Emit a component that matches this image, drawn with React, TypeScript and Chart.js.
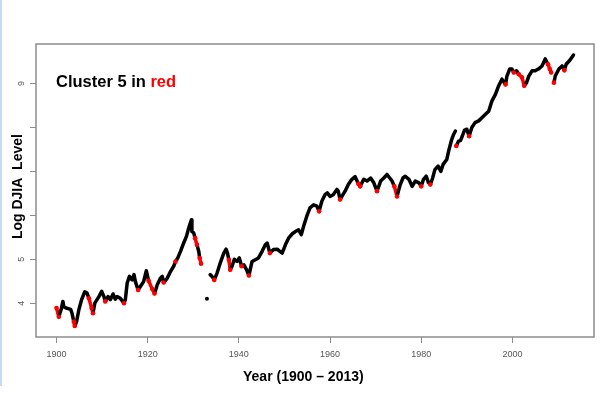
import React, { useEffect, useRef } from 'react';
import { Chart, registerables } from 'chart.js';

Chart.register(...registerables);

// ---- data ----
const years: number[] = [
  1900.0, 1900.5, 1901.0, 1901.4, 1901.6, 1902.1, 1903.1, 1903.4, 1903.8, 1904.0,
  1904.4, 1904.9, 1905.5, 1906.2, 1906.7, 1907.1, 1907.7, 1908.0, 1908.4, 1909.3,
  1909.9, 1910.4, 1910.7, 1911.3, 1911.8, 1912.4, 1912.9, 1913.3, 1914.0, 1914.8,
  1915.1, 1915.5, 1916.0, 1916.6, 1917.0, 1917.3, 1917.9, 1918.4, 1919.1, 1919.7,
  1920.2, 1921.0, 1921.5, 1922.1, 1922.8, 1923.2, 1923.5, 1924.3, 1925.0, 1925.7,
  1926.1, 1926.6, 1927.2, 1927.9, 1928.5, 1929.0, 1929.4, 1929.6, 1929.7, 1930.1,
  1930.4, 1930.8, 1931.2, 1931.4, 1931.7, 1932.3, 1933.0, 1933.4, 1933.7, 1934.1,
  1934.6, 1935.2, 1935.9, 1936.7, 1937.2, 1937.5, 1937.8, 1938.1, 1938.5, 1939.0,
  1939.6, 1940.1, 1940.6, 1941.1, 1941.7, 1942.2, 1942.9, 1943.6, 1944.3, 1945.1,
  1945.8, 1946.2, 1946.8, 1947.6, 1948.4, 1949.0, 1949.5, 1950.2, 1950.9, 1951.7,
  1952.4, 1953.1, 1953.7, 1954.2, 1954.9, 1955.6, 1956.4, 1957.1, 1957.6, 1958.2,
  1958.9, 1959.4, 1960.0, 1960.7, 1961.5, 1961.8, 1962.2, 1962.6, 1963.3, 1964.0,
  1964.8, 1965.5, 1966.2, 1966.6, 1967.4, 1968.1, 1968.9, 1969.6, 1970.3, 1971.1,
  1971.8, 1972.5, 1973.1, 1973.6, 1974.1, 1974.7, 1975.0, 1975.4, 1976.0, 1976.5,
  1977.3, 1978.0, 1978.7, 1979.5, 1980.0, 1980.5, 1981.1, 1981.6, 1982.0, 1982.5,
  1983.0, 1983.7, 1984.3, 1984.8, 1985.6, 1986.1, 1986.7, 1987.1, 1987.5, 1987.6,
  1987.7, 1988.2, 1988.6, 1989.0, 1989.5, 1990.0, 1990.5, 1991.1, 1991.8, 1992.6,
  1993.3, 1994.1, 1994.8, 1995.5, 1996.3, 1997.0, 1997.7, 1998.5, 1998.8, 1999.4,
  1999.9, 2000.3, 2000.9, 2001.4, 2002.1, 2002.6, 2003.1, 2003.6, 2004.3, 2005.0,
  2005.7, 2006.5, 2007.2, 2007.8, 2008.2, 2008.5, 2008.8, 2009.1, 2009.4, 2010.2,
  2010.9, 2011.4, 2011.8, 2012.6, 2013.4,
];

const logDjia: (number | null)[] = [
  3.89, 3.69, 3.85, 4.04, 3.92, 3.89, 3.86, 3.77, 3.58, 3.48,
  3.58, 3.85, 4.08, 4.26, 4.23, 4.11, 3.89, 3.77, 4.00, 4.15,
  4.27, 4.15, 4.04, 4.15, 4.08, 4.21, 4.09, 4.15, 4.11, 4.00,
  4.08, 4.46, 4.61, 4.53, 4.65, 4.49, 4.30, 4.38, 4.49, 4.74,
  4.51, 4.32, 4.22, 4.42, 4.57, 4.61, 4.47, 4.57, 4.72, 4.84,
  4.95, 5.03, 5.18, 5.37, 5.52, 5.71, 5.84, 5.90, 5.63, 5.60,
  5.48, 5.33, 5.18, 5.03, 4.90, null, 4.10, null, 4.65, 4.61,
  4.53, 4.68, 4.91, 5.14, 5.23, 5.14, 4.99, 4.76, 4.84, 5.00,
  4.95, 5.03, 4.84, 4.87, 4.76, 4.63, 4.95, 4.99, 5.03, 5.18,
  5.33, 5.37, 5.14, 5.22, 5.23, 5.18, 5.14, 5.33, 5.48, 5.58,
  5.63, 5.67, 5.56, 5.75, 5.98, 6.17, 6.24, 6.21, 6.09, 6.32,
  6.47, 6.51, 6.43, 6.47, 6.59, 6.55, 6.36, 6.43, 6.55, 6.70,
  6.82, 6.88, 6.72, 6.66, 6.82, 6.78, 6.85, 6.74, 6.55, 6.78,
  6.85, 6.93, 6.85, 6.78, 6.66, 6.43, 6.55, 6.70, 6.85, 6.89,
  6.82, 6.66, 6.78, 6.74, 6.66, 6.82, 6.89, 6.74, 6.70, 6.85,
  7.04, 7.12, 7.00, 7.16, 7.27, 7.50, 7.73, 7.84, 7.92, null,
  7.58, 7.69, 7.70, 7.80, 7.94, 7.96, 7.80, 8.00, 8.11, 8.15,
  8.22, 8.30, 8.37, 8.60, 8.76, 8.95, 9.10, 8.98, 9.17, 9.33,
  9.33, 9.25, 9.29, 9.21, 9.14, 8.95, 9.02, 9.17, 9.29, 9.29,
  9.33, 9.40, 9.56, 9.44, 9.33, 9.25, null, 9.02, 9.17, 9.33,
  9.40, 9.30, 9.44, 9.53, 9.65,
];

// 1 = observation belongs to cluster 5 (drawn in red)
const cluster5: number[] = [
  1, 1, 0, 0, 0, 0, 0, 0, 1, 1,
  0, 0, 0, 0, 0, 1, 1, 1, 0, 0,
  0, 0, 1, 0, 0, 0, 0, 0, 0, 1,
  0, 0, 0, 0, 0, 0, 1, 0, 0, 0,
  1, 1, 1, 0, 0, 0, 1, 0, 0, 0,
  1, 0, 0, 0, 0, 0, 0, 0, 0, 0,
  1, 1, 0, 1, 1, 0, 0, 0, 0, 0,
  1, 0, 0, 0, 0, 0, 1, 1, 0, 0,
  0, 0, 1, 0, 0, 1, 0, 0, 0, 0,
  0, 0, 1, 0, 0, 0, 0, 0, 0, 0,
  0, 0, 0, 0, 0, 0, 0, 0, 1, 0,
  0, 0, 0, 0, 0, 0, 1, 0, 0, 0,
  0, 0, 1, 1, 0, 0, 0, 0, 1, 0,
  0, 0, 0, 0, 1, 1, 0, 0, 0, 0,
  0, 0, 0, 0, 1, 0, 0, 0, 1, 0,
  0, 0, 0, 0, 0, 0, 0, 0, 0, 0,
  1, 0, 0, 0, 0, 0, 1, 0, 0, 0,
  0, 0, 0, 0, 0, 0, 0, 1, 0, 0,
  0, 1, 0, 1, 1, 1, 0, 0, 0, 0,
  0, 0, 0, 1, 1, 1, 0, 1, 0, 0,
  0, 1, 0, 0, 0,
];

const xTickValues: number[] = [1900, 1920, 1940, 1960, 1980, 2000];
const yTickValues: number[] = [4, 5, 6, 7, 8, 9];
const yTickLabels: string[] = ['4', '5', '', '', '', '9'];
const xTitle = 'Year (1900 \u2013 2013)';
const yTitle = 'Log DJIA  Level';
const noteText = 'Cluster 5 in ';
const noteHighlight = 'red';

const FONT = '"Liberation Sans", Arial, Helvetica, sans-serif';
const NARROW = '"Liberation Sans Narrow", "Arial Narrow", "Liberation Sans", sans-serif';
const RED = '#ff0000';

const framePlugin = {
  id: 'frame',
  beforeDraw(chart: any) {
    const { ctx } = chart;
    ctx.save();
    ctx.fillStyle = '#ffffff';
    ctx.fillRect(0, 0, chart.width, chart.height);
    ctx.fillStyle = '#c6daf0';
    ctx.fillRect(0, 0, 2, 386);
    ctx.restore();
  },
  beforeDatasetsDraw(chart: any) {
    const { ctx, chartArea: a } = chart;
    ctx.save();
    ctx.strokeStyle = '#8c8c8c';
    ctx.lineWidth = 1.5;
    ctx.strokeRect(a.left, a.top, a.right - a.left, a.bottom - a.top);
    ctx.restore();
  },
  afterDraw(chart: any) {
    const { ctx, chartArea: a } = chart;
    ctx.save();
    ctx.font = `bold 16.5px ${FONT}`;
    ctx.textBaseline = 'alphabetic';
    ctx.textAlign = 'left';
    const x0 = a.left + 20;
    const y0 = a.top + 43;
    ctx.fillStyle = '#000000';
    ctx.fillText(noteText, x0, y0);
    const w = ctx.measureText(noteText).width;
    ctx.fillStyle = RED;
    ctx.fillText(noteHighlight, x0 + w, y0);
    ctx.restore();
  },
};

export default function App() {
  const ref = useRef<HTMLCanvasElement | null>(null);

  useEffect(() => {
    document.body.style.margin = '0';
    const canvas = ref.current;
    if (!canvas) return;

    const isolated = logDjia.map(
      (v, i) => v !== null && (i === 0 || logDjia[i - 1] === null) && (i === logDjia.length - 1 || logDjia[i + 1] === null)
    );

    const chart = new Chart(canvas, {
      type: 'line',
      data: {
        datasets: [
          {
            data: years.map((x, i) => ({ x, y: logDjia[i] })) as any,
            borderColor: '#000000',
            borderWidth: 3.5,
            borderCapStyle: 'round',
            borderJoinStyle: 'round',
            tension: 0,
            spanGaps: false,
            pointRadius: (c: any) => (cluster5[c.dataIndex] ? 2.3 : isolated[c.dataIndex] ? 2 : 0),
            pointBackgroundColor: (c: any) => (cluster5[c.dataIndex] ? RED : '#000000'),
            pointBorderWidth: 0,
            segment: {
              borderColor: (c: any) =>
                cluster5[c.p0DataIndex] && cluster5[c.p1DataIndex] ? RED : '#000000',
            },
          } as any,
        ],
      },
      options: {
        responsive: false,
        animation: false,
        events: [],
        layout: { padding: { top: 44, right: 6, left: 0, bottom: 0 } },
        plugins: {
          legend: { display: false },
          tooltip: { enabled: false },
        },
        scales: {
          x: {
            type: 'linear',
            min: 1895.5,
            max: 2017.9,
            afterBuildTicks: (s: any) => {
              s.ticks = xTickValues.map((v) => ({ value: v }));
            },
            afterFit: (s: any) => {
              s.height = 56;
            },
            grid: {
              display: true,
              drawOnChartArea: false,
              drawTicks: true,
              tickLength: 6,
              color: '#8c8c8c',
              lineWidth: 1,
            },
            border: { display: false },
            ticks: {
              padding: 6,
              autoSkip: false,
              maxRotation: 0,
              color: '#555555',
              font: { family: NARROW, size: 9 },
              callback: (v: any) => String(v),
            },
            title: {
              display: true,
              text: xTitle + '      ',
              color: '#000000',
              font: { family: FONT, size: 14, weight: 'bold' },
              padding: { top: 0, bottom: 7 },
            },
          },
          y: {
            type: 'linear',
            min: 3.23,
            max: 9.9,
            afterBuildTicks: (s: any) => {
              s.ticks = yTickValues.map((v) => ({ value: v }));
            },
            afterFit: (s: any) => {
              s.width = 36;
            },
            grid: {
              display: true,
              drawOnChartArea: false,
              drawTicks: true,
              tickLength: 6,
              color: '#8c8c8c',
              lineWidth: 1,
            },
            border: { display: false },
            ticks: {
              padding: 6,
              autoSkip: false,
              minRotation: 90,
              maxRotation: 90,
              crossAlign: 'center',
              color: '#555555',
              font: { family: NARROW, size: 9 },
              callback: (v: any) => {
                const i = yTickValues.indexOf(Number(v));
                return i >= 0 ? yTickLabels[i] : '';
              },
            },
            title: {
              display: true,
              text: '  ' + yTitle,
              color: '#000000',
              font: { family: FONT, size: 14, weight: 'bold' },
              padding: { top: 10, bottom: 0 },
            },
          },
        },
      } as any,
      plugins: [framePlugin],
    });

    return () => chart.destroy();
  }, []);

  return (
    <div style={{ width: 600, height: 393, position: 'relative' }}>
      <canvas ref={ref} width={600} height={393} style={{ display: 'block' }} />
    </div>
  );
}
